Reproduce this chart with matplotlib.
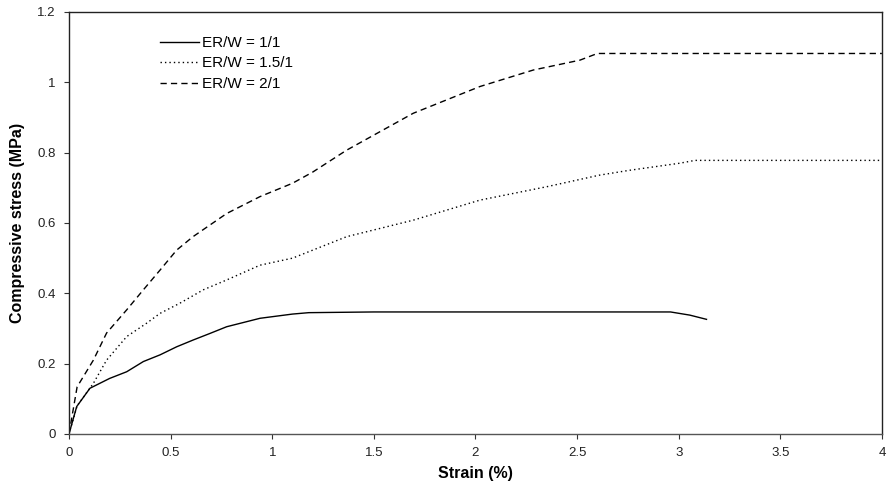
import matplotlib
matplotlib.use("Agg")
import matplotlib.pyplot as plt
from matplotlib.ticker import FuncFormatter

plt.rcParams["font.family"] = ["Liberation Sans", "DejaVu Sans"]

# =========================
# DATA
# =========================
strain_1 = [0, 0.038, 0.103, 0.2, 0.284, 0.366, 0.448, 0.53, 0.61, 0.694, 0.776,
            0.94, 1.10, 1.18, 1.5, 2.0, 2.5, 2.96, 3.055, 3.137]
stress_1 = [0, 0.078, 0.13, 0.158, 0.177, 0.206, 0.225, 0.248, 0.267, 0.286, 0.305,
            0.329, 0.341, 0.345, 0.347, 0.347, 0.347, 0.347, 0.338, 0.326]

strain_15 = [0, 0.04, 0.12, 0.185, 0.284, 0.382, 0.448, 0.546, 0.661, 0.776, 0.94,
             1.10, 1.366, 1.694, 2.022, 2.35, 2.61, 2.76, 3.006, 3.08, 4.0]
stress_15 = [0, 0.08, 0.144, 0.21, 0.277, 0.315, 0.343, 0.372, 0.41, 0.438, 0.48,
             0.50, 0.561, 0.608, 0.665, 0.703, 0.736, 0.75, 0.77, 0.778, 0.778]

strain_2 = [0, 0.04, 0.12, 0.185, 0.284, 0.366, 0.448, 0.53, 0.61, 0.776, 0.94,
            1.10, 1.2, 1.366, 1.694, 2.022, 2.285, 2.514, 2.60, 4.0]
stress_2 = [0, 0.134, 0.21, 0.287, 0.353, 0.41, 0.466, 0.523, 0.561, 0.627, 0.675,
            0.713, 0.745, 0.807, 0.912, 0.988, 1.035, 1.063, 1.082, 1.082]

labels = ["ER/W = 1/1", "ER/W = 1.5/1", "ER/W = 2/1"]

# =========================
# PLOT
# =========================
fig = plt.figure(figsize=(8.89, 4.93), dpi=100)
ax = fig.add_axes([0.0776, 0.1197, 0.9144, 0.856])

ax.plot(strain_1, stress_1, color="black", lw=1.0, ls="-", label=labels[0])
ax.plot(strain_15, stress_15, color="black", lw=1.0, ls=(0, (1, 2.2)), label=labels[1])
ax.plot(strain_2, stress_2, color="black", lw=1.0, ls=(0, (4.5, 3)), label=labels[2])

ax.set_xlim(0, 4)
ax.set_ylim(0, 1.2)
ax.set_xticks([0, 0.5, 1, 1.5, 2, 2.5, 3, 3.5, 4])
ax.set_yticks([0, 0.2, 0.4, 0.6, 0.8, 1.0, 1.2])
fmt = FuncFormatter(lambda v, p: f"{v:g}")
ax.xaxis.set_major_formatter(fmt)
ax.yaxis.set_major_formatter(fmt)
ax.tick_params(direction="out", length=3.5, width=0.8, labelsize=9.5,
               labelcolor="#222222", color="#333333", pad=6)

for s in ax.spines.values():
    s.set_color("#222222")
    s.set_linewidth(1.0)
ax.spines["bottom"].set_color("#555555")

ax.set_xlabel("Strain (%)", fontsize=11.5, fontweight="bold", labelpad=5)
ax.set_ylabel("Compressive stress (MPa)", fontsize=11.5, fontweight="bold", labelpad=9)

ax.legend(loc="upper left", bbox_to_anchor=(0.112, 0.943), frameon=False,
          fontsize=11, handlelength=2.55, handletextpad=0.2, labelspacing=0.42,
          borderaxespad=0, borderpad=0)

fig.savefig("out.png", dpi=100)
